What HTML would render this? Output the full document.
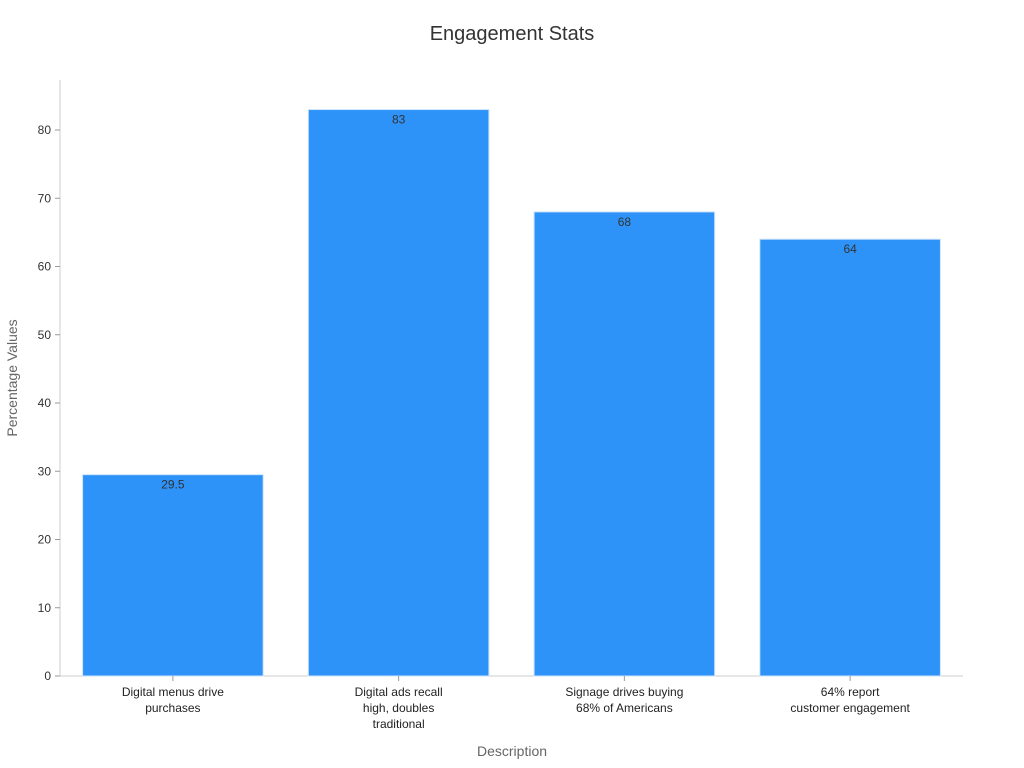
<!DOCTYPE html>
<html><head><meta charset="utf-8">
<style>
html,body{margin:0;padding:0;background:#fff;}
svg{display:block;font-family:"Liberation Sans","DejaVu Sans",sans-serif;}
</style></head>
<body>
<svg id="chart" width="1024" height="768" viewBox="0 0 1024 768">
<text x="512" y="40" text-anchor="middle" font-size="20" fill="#333">Engagement Stats</text>
<text transform="translate(17,378) rotate(-90)" text-anchor="middle" font-size="14" fill="#666">Percentage Values</text>
<text x="512" y="756" text-anchor="middle" font-size="14" fill="#666">Description</text>
<g id="plot"></g>
</svg>
<script>
const categories = [["Digital menus drive","purchases"],["Digital ads recall","high, doubles","traditional"],["Signage drives buying","68% of Americans"],["64% report","customer engagement"]];
const values = [29.5, 83, 68, 64];
const valueLabels = ["29.5","83","68","64"];
const yTicks = [0,10,20,30,40,50,60,70,80];

const NS="http://www.w3.org/2000/svg";
const g=document.getElementById('plot');
const x0=60,x1=963,yBase=676,pxPer=(676-130)/80;
function y(v){return yBase-v*pxPer;}
const band=(x1-x0)/categories.length;
function xc(i){return x0+band*(i+0.5);}
function mk(t,a){const e=document.createElementNS(NS,t);for(const k in a)e.setAttribute(k,a[k]);g.appendChild(e);return e;}

let ax=mk('line',{x1:x0,y1:80,x2:x0,y2:yBase,stroke:'#ccc'});


let bx=mk('line',{x1:x0,y1:yBase,x2:x1,y2:yBase,stroke:'#ccc'});



yTicks.forEach(v=>{
  const tk=mk('line',{x1:x0-5,y1:y(v),x2:x0,y2:y(v),stroke:'#999'});
  
  
  const t=mk('text',{x:x0-9,y:y(v)+4,'text-anchor':'end','font-size':12,fill:'#333'});
  t.textContent=v;
  
  
});

values.forEach((v,i)=>{
  const w=band*0.8;
  const r=mk('rect',{x:xc(i)-w/2,y:y(v),width:w,height:yBase-y(v),fill:'#2e93f9',stroke:'#cfe3fb','stroke-width':1});
  
  
  const t=mk('text',{x:xc(i),y:y(v)+14,'text-anchor':'middle','font-size':12,fill:'#333'});
  t.textContent=valueLabels[i];
  
  
  const tk=mk('line',{x1:xc(i),y1:yBase,x2:xc(i),y2:yBase+5,stroke:'#999'});
  
  
  categories[i].forEach((ln,j)=>{
    const c=mk('text',{x:xc(i),y:yBase+20+j*16,'text-anchor':'middle','font-size':12,fill:'#222'});
    c.textContent=ln;
    
    
  });
});
</script>
</body></html>
